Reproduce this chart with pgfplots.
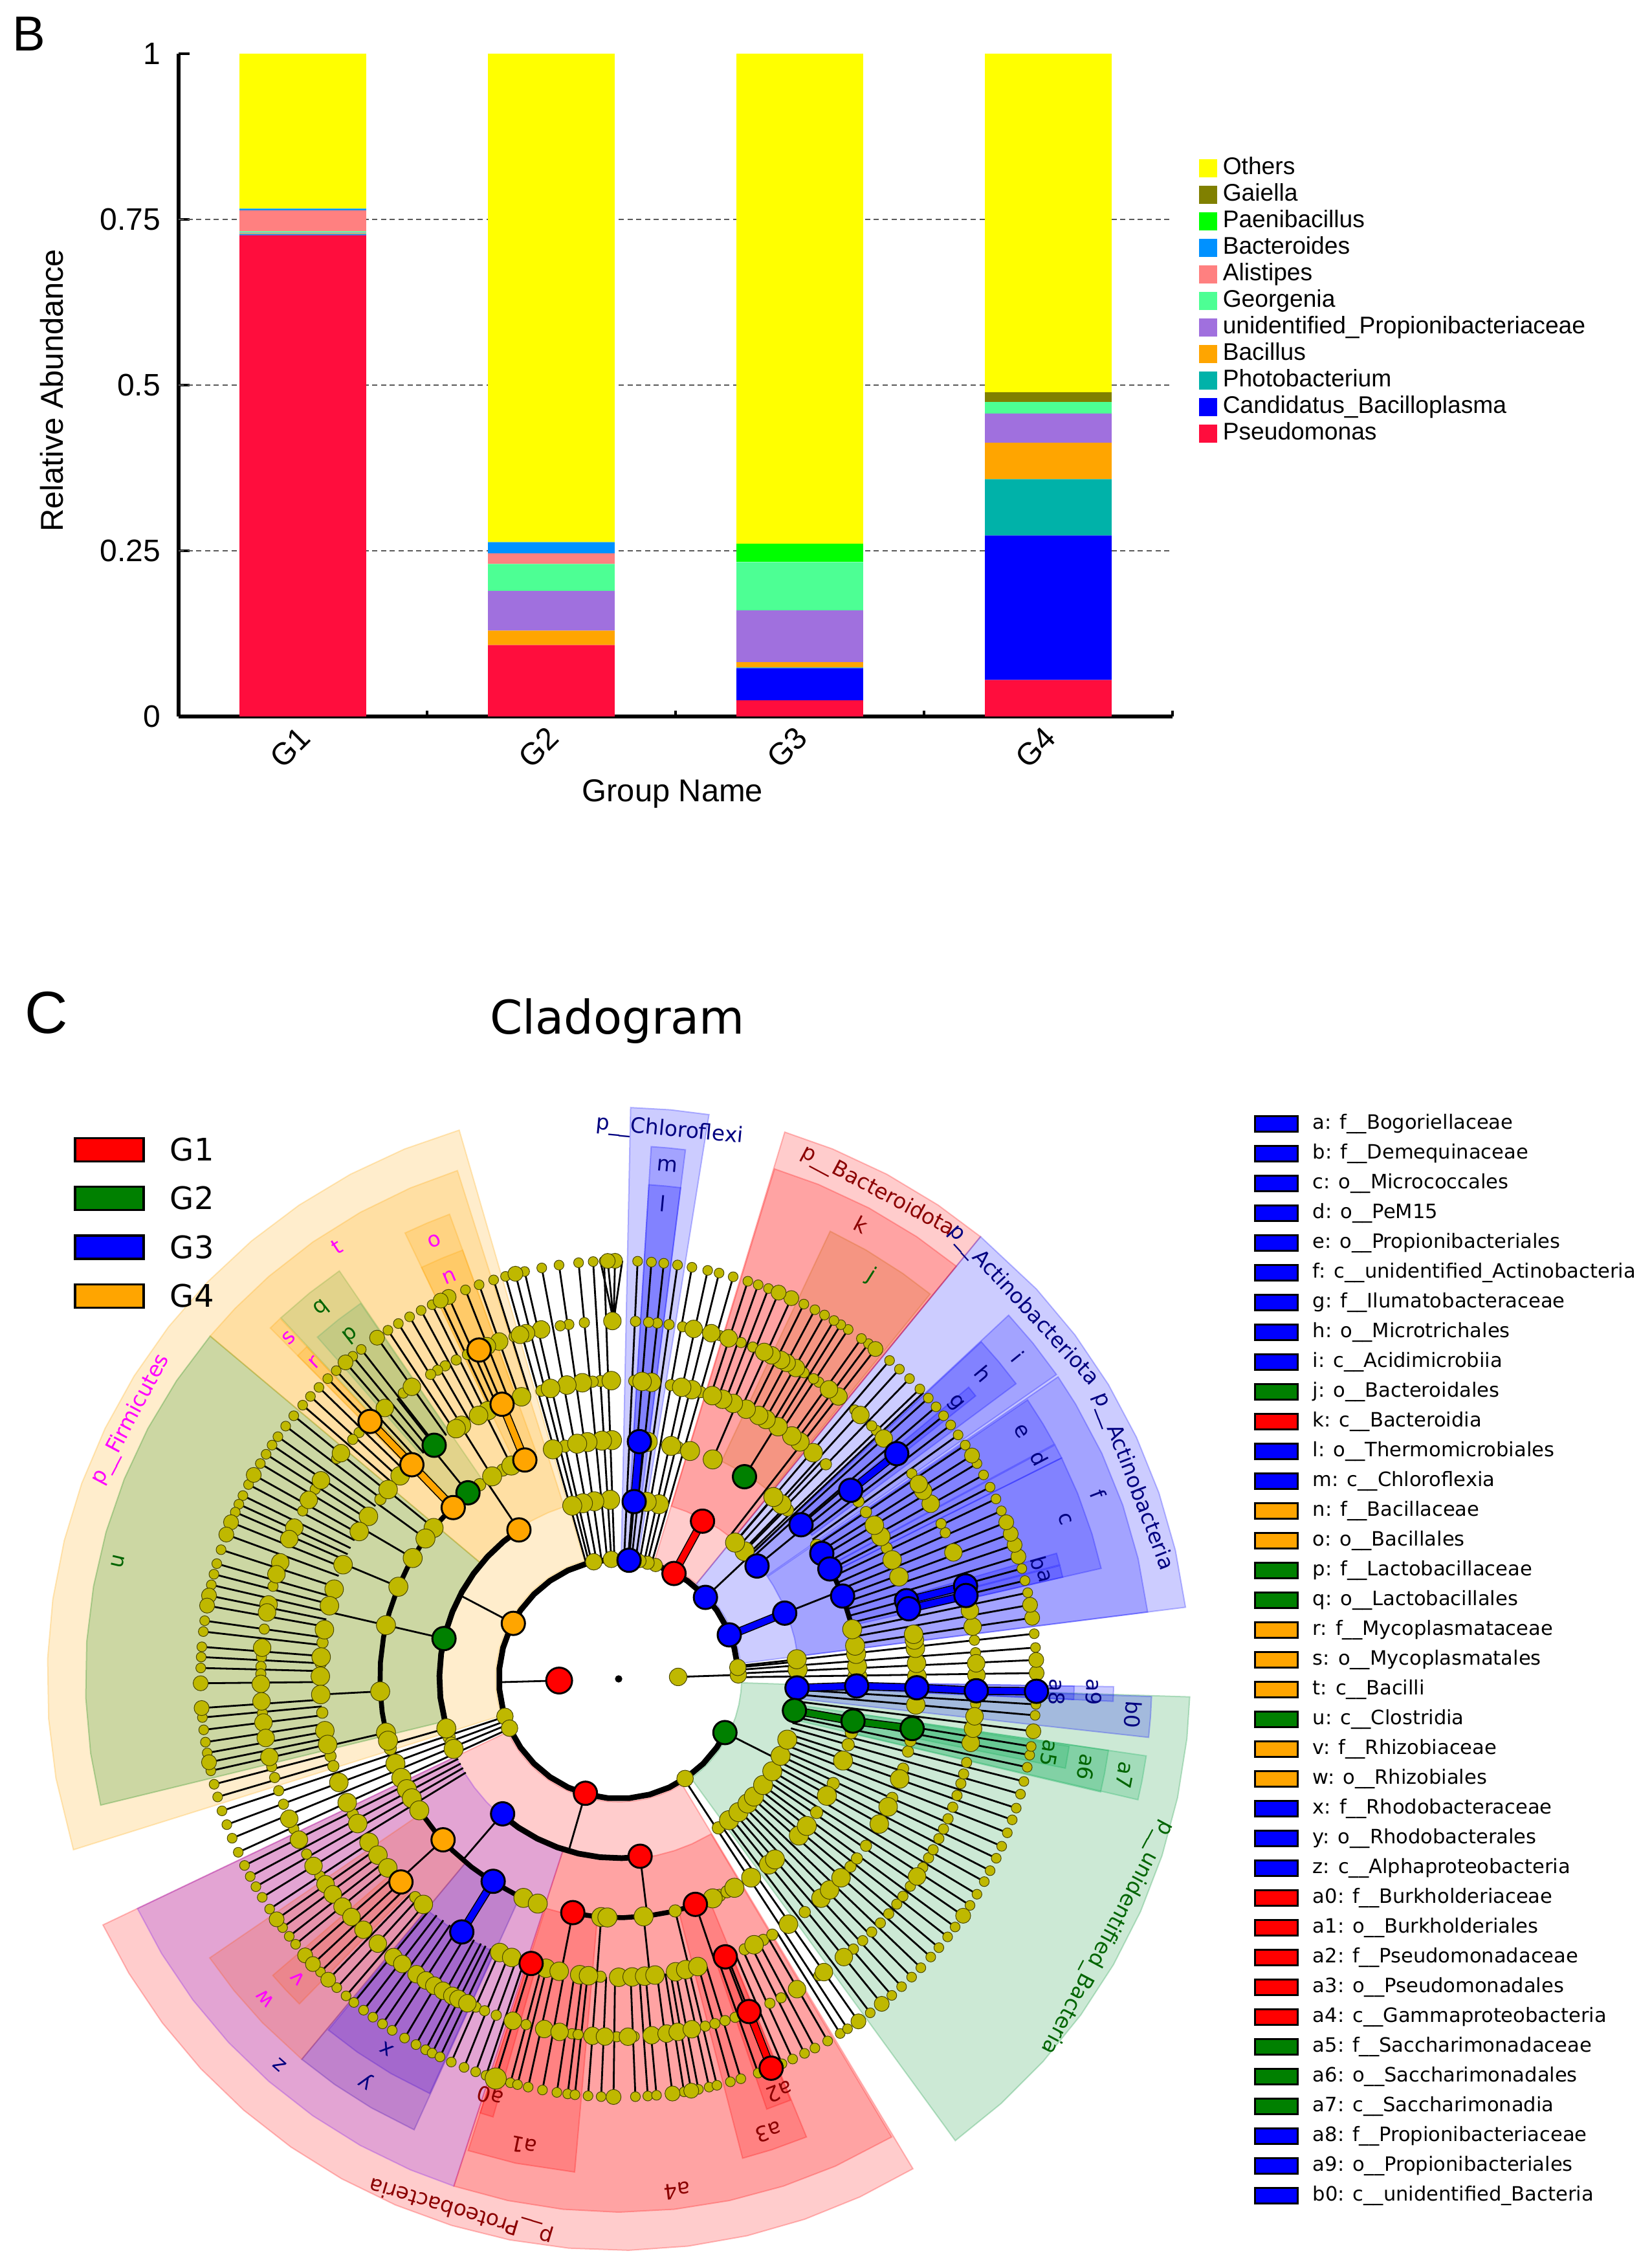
\documentclass[border=0pt]{standalone}
\usepackage{fontspec}
\setmainfont{Liberation Sans}
\newfontfamily\djv{DejaVu Sans}
\usepackage{pgfplots}
\usepackage{pgfplotstable}
\pgfplotsset{compat=1.18}
\usepgfplotslibrary{polar}

\definecolor{cOthers}{HTML}{FFFF00}
\definecolor{cGaiella}{HTML}{808000}
\definecolor{cPaeni}{HTML}{00FF00}
\definecolor{cBacteroides}{HTML}{0091FF}
\definecolor{cAlistipes}{HTML}{FF8080}
\definecolor{cGeorgenia}{HTML}{4DFF94}
\definecolor{cProp}{HTML}{A070DE}
\definecolor{cBacillus}{HTML}{FFA500}
\definecolor{cPhoto}{HTML}{00B2A9}
\definecolor{cCand}{HTML}{0000FF}
\definecolor{cPseudo}{HTML}{FF0D3D}
\definecolor{dotc}{HTML}{BFB800}
\definecolor{dotedge}{HTML}{4A4700}
\definecolor{gG}{HTML}{008000}
\definecolor{gO}{HTML}{FFA500}
\definecolor{gNavy}{HTML}{000080}
\definecolor{gDRed}{HTML}{8B0000}
\definecolor{gDGreen}{HTML}{006400}
\definecolor{gMag}{HTML}{FF00FF}
\definecolor{blue}{HTML}{0000FF}
\definecolor{red}{HTML}{FF0000}
% sector tints read off the overlaps in the reference
\definecolor{sJ}{RGB}{205,95,0}
\definecolor{sQ}{RGB}{108,168,48}
\definecolor{sP}{RGB}{84,167,100}
\definecolor{sZ}{RGB}{115,4,239}
\definecolor{sW}{RGB}{252,85,17}
\definecolor{sY}{RGB}{52,0,180}
\definecolor{sX}{RGB}{57,0,210}
\definecolor{sGr}{HTML}{00902F}
\definecolor{sSa}{HTML}{00AA50}

\pgfplotstableread{
x   Pseu   Cand   Phot  Baci   Prop  Geor   Alis   Bact   Paen   Gaie   Othe
0.5 0.726  0.001  0.001 0.001  0.001 0.002  0.0316 0.0025 0      0      0.2339
1.5 0.1077 0      0     0.0219 0.06  0.0405 0.016  0.017  0      0      0.737
2.5 0.0243 0.0486 0.001 0.008  0.078 0.073  0      0      0.0275 0      0.7396
3.5 0.055  0.218  0.085 0.055  0.044 0.0175 0      0      0      0.0145 0.511
}\bardata

% polar helpers, angle in degrees and radius in reference pixels
\newcommand\ringdots[3]{%
  \gdef\pts{}\pgfplotsforeachungrouped\ang in {#3}{\xdef\pts{\pts(\ang,#1) }}%
  \edef\doit{\noexpand\addplot[data cs=polar,only marks,mark=*,mark size=#2,
    mark options={fill=dotc,draw=dotedge,line width=.25pt}] coordinates {\pts};}\doit}
\newcommand\cnode[3]{%
  \addplot[data cs=polar,only marks,mark=*,mark size=#2,
    mark options={fill=#1,draw=black,line width=.75pt}] coordinates {#3};}
\newcommand\spokes[3]{%
  \pgfplotsforeachungrouped\ang in {#3}{%
    \edef\doit{\noexpand\addplot[data cs=polar,black,line width=.7pt]
      coordinates {(\ang,#1)(\ang,#2)};}\doit}}
\newcommand\arcline[3]{%
  \gdef\pts{}\pgfplotsforeachungrouped\ang in {#3}{\xdef\pts{\pts(\ang,#2) }}%
  \edef\doit{\noexpand\addplot[data cs=polar,black,line width=#1] coordinates {\pts};}\doit}
\newcommand\sector[4]{%
  \gdef\ptsout{}\gdef\ptsin{}%
  \pgfplotsforeachungrouped\ang in {#4}{%
    \xdef\ptsout{\ptsout(\ang,#3) }\xdef\ptsin{(\ang,#2) \ptsin}}%
  \edef\doit{\noexpand\addplot[data cs=polar,fill=#1,fill opacity=.2,draw=#1,
    draw opacity=.25,line width=.5pt] coordinates {\ptsout\ptsin} -- cycle;}\doit}
\newcommand\branch[2]{%
  \addplot[data cs=polar,black,line width=3.2pt] coordinates {#2};
  \addplot[data cs=polar,#1,line width=2.4pt] coordinates {#2};}
\newcommand\lab[4]{%
  \node[rotate=#2-90,text=#3,font=\fontsize{8.2}{10}\selectfont\djv]
    at (axis cs:{#1*cos(#2)},{#1*sin(#2)}) {#4};}
\newcommand\lrow[3]{%
  \draw[fill=#2,draw=black,line width=.8pt] (axis cs:983.5,{#1-14}) rectangle (axis cs:1049,{#1+10});
  \node[anchor=west,font=\fontsize{7.63}{9}\selectfont\djv,inner sep=0pt] at (axis cs:1072,{#1-2}) {#3};}
\newcommand\grow[3]{%
  \draw[fill=#2,draw=black,line width=.9pt] (axis cs:-840,{#1-18}) rectangle (axis cs:-734,{#1+18});
  \node[anchor=west,font=\fontsize{12}{14}\selectfont\djv,inner sep=0pt] at (axis cs:-694,#1) {#3};}

\begin{document}
\begin{tikzpicture}
\path[use as bounding box] (0,0) rectangle (638pt,874.5pt);

% panel C, one pixel of the reference is .25pt, origin at the tree's root
\begin{axis}[
  at={(0pt,0pt)},anchor=south west,scale only axis,width=638pt,height=874.5pt,
  xmin=-956,xmax=1596,ymin=-904,ymax=2594,hide axis,clip=false]

% phyla
\sector{gO}{190}{883}{106.2,112,118,124,130,136,142,148,154,160,166,172,178,184,190,197.4}
\sector{blue}{190}{883}{80.9,84.8,88.8}
\sector{red}{190}{883}{50.7,56,62,68,73.1}
\sector{blue}{190}{883}{7.2,13,19,25,31,37,43,50.7}
\sector{red}{190}{883}{205.5,211,217,223,229,235,241,247,253,259,265,271,277,283,289,295,301}
\sector{sGr}{190}{883}{306.1,312,318,324,330,336,342,348,354,358.2}
% classes
\sector{gG}{279}{824}{140,146,152,158,164,170,176,182,188,193.7}
\sector{gO}{279}{824}{107.6,113,119,125,131,136,140}
\sector{blue}{279}{824}{82.8,84.6,86.5}
\sector{red}{279}{824}{50.7,56,62,68,73}
\sector{blue}{279}{824}{7.2,13,19,25,31,34.5}
\sector{blue}{279}{824}{34.8,39,43}
\sector{sZ}{279}{824}{205.5,211,217,223,229,235,241,247,252}
\sector{red}{279}{824}{252,258,264,270,276,282,288,294,300.8}
\sector{blue}{279}{824}{353.7,356,358.1}
\sector{sSa}{279}{824}{346.9,349,351.7}
% orders
\sector{gO}{372}{764}{110,112.8,115.6}
\sector{sQ}{372}{764}{124.4,128.7,133.1}
\sector{gO}{372}{764}{133.2,134.8}
\sector{blue}{372}{765}{82.8,84.6,86.5}
\sector{sJ}{372}{765}{51,55,60,64.7}
\sector{blue}{372}{765}{36.6,39.8,42.9}
\sector{blue}{372}{765}{28.3,31,34.3}
\sector{blue}{372}{765}{26.5,28.2}
\sector{blue}{372}{765}{12.9,17,22,26.5}
\sector{sW}{372}{765}{214.3,219,224,230.2}
\sector{sY}{372}{765}{230.2,235,240,245.6}
\sector{red}{372}{765}{252.3,258,264.9}
\sector{red}{372}{765}{284.5,288,292.3}
\sector{sSa}{372}{765}{346.8,349,351.7}
\sector{blue}{372}{765}{357.4,359.1}
% families
\sector{gO}{464}{705}{110,112.8,115.6}
\sector{sP}{464}{704}{124.5,128,131.4}
\sector{gO}{464}{704}{133.2,134.8}
\sector{blue}{464}{704}{38.4,39.8}
\sector{blue}{464}{704}{14.5,16}
\sector{blue}{464}{704}{12.9,14.4}
\sector{sW}{464}{704}{220.6,223,225.5}
\sector{sX}{464}{704}{230.4,235,240,245.5}
\sector{red}{464}{704}{252.3,254}
\sector{red}{464}{703}{289,292.2}
\sector{sSa}{464}{704}{348.7,351.5}
\sector{blue}{464}{704}{357.4,359.1}

% branches that reach the outer ring
\spokes{185}{646}{0.8,2.6,4.3,6.2,74.1,76.1,77.7,79.9,81.9,83.8,85.5,87.4,92,93.5,95.5,98.2,100.6,103,104.3,105.7,198.4,200.4,202.4,204.5,303.2,43.2}
\spokes{277}{646}{42.2,43.9,45.9,47.8,49.6,52.1,206.5,208.2,209.8,211.5,305,307,309,310.8,312.6,314.5,316.3,318.3,320,321.9,323.6,325.5,327.2,329,331,332.7,334.6,336.4,338.4,340.3,342,344,345.8,347.8,349.5,350.7,352.8,355,356.5}
\spokes{369}{646}{8.4,10.2,11.9,13.6,15.3,17,18.7,20.3,22,23.7,25.5,27.3,29.2,31,32.3,34,35.7,37.4,39,40.6}
\spokes{461}{646}{53.3,54.5,56.7,57.9,59,60.5,62,63.7,65.6,67.5,69,70.5,72,107.4,109.5,111.5,114,115.2,116.5,118.2,120,121.8,123.5,125.3,128,129.5,130.8,132.5,134.1,135.8,137.5,139.1,141,142.8,144.6,146,147.5,149,150.8,152.3,154,155.3,156.5,158,159.8,162,164,165.5,167,168.5,169.9,172,173.5,175.6,177,178.5,180.6,184,185.3,187,188.7,190.2,191.5,192.7,194.6,196.4,213.4,215.1,216.5,218,219.4,221.4,223,224.5,226,227.6,229.3,230.7,232.4,234,235.6,237.2,239.2,241,242.5,243.5,244.7,246.4,248.3,250,251.5,252.9,255,256,257.5,259.5,261.5,263,264,265.8,267.6,269.3,272.3,274,275.2,277.4,279,280,281,282.5,283.6,285.5,287,289.5,291.4,293,294.6,296.4,298,300,302}
% short links between rings
\spokes{92}{185}{1.9,181.6}
\spokes{185}{277}{152.2,253.8,333.2,85,5.5}
\spokes{277}{369}{123.8,167,196,229.3,276.9,45.4,49.5,39.2,21.6}
\spokes{369}{461}{58.1,40.2,47,66.8,116.7,122,129,140.8,144,149.6,157.3,167,183,193,222.5,258.9,265.8,276,283.7,288.8}
\spokes{461}{552}{291,113,128.3}
\addplot[data cs=polar,black,line width=.7pt] coordinates {(90.5,646)(90.8,553)(91.5,646)(90.8,553)(92.5,646)(90.8,553)(89.5,646)};

% thick arcs
\arcline{2.2pt}{185}{5.5,15,25,35,45,55,65,75,85,95,105,115,125,135,145,155,165,175,185,195,205,215,225,235,245,255,265,275,285,295,305,315,325,333.2}
\arcline{2.2pt}{277}{123.8,130,137,144,151,158,165,172,179,186,196}
\arcline{2.2pt}{277}{229.3,236,243,250,257,264,271,276.9}
\arcline{1.9pt}{369}{129,134,140,146,152,158,164,170,176,182,188,193}
\arcline{1.9pt}{369}{213.4,220,226,232,238,244,250.2}
\arcline{1.9pt}{369}{258.9,265,271,277,283,288.8}
\arcline{1.9pt}{369}{8,14,20,26,31.7}

% coloured branches
\branch{blue}{(-2.9,276)(-1.7,368)(-1.7,461)(-1.9,553)(-1.7,646)}
\branch{gG}{(-10.2,276)(-10.2,368)(-9.6,460)}
\branch{blue}{(21.4,184)(21.6,276)}
\branch{blue}{(15.2,461)(15,555)}
\branch{blue}{(13.6,461)(13.5,552)}
\branch{blue}{(39.1,462)(39,553)}
\branch{blue}{(85,275)(85,368)}
\branch{red}{(62.3,184)(62,276)}
\branch{red}{(291.4,552)(291.4,646)}
\branch{gO}{(113.2,368)(113,461)}
\branch{gO}{(134,368)(134,460)(134,553)}
\branch{blue}{(238.2,368)(238.2,460)}

% dots, ring by ring
\ringdots{646}{1.9pt}{4.3,6.2,11.9,13.6,15.3,23.7,25.5,27.3,29.2,31,34,35.7,37.4,39,40.6,42.2,43.9,45.9,47.8,49.6,53.3,54.5,56.7,57.9,59,60.5,62,63.7,69,70.5,72,74.1,76.1,77.7,79.9,81.9,83.8,85.5,87.4,92,93.5,95.5,98.2,100.6,103,105.7,107.4,109.5,111.5,116.5,118.2,120,121.8,123.5,128,129.5,132.5,134.1,135.8,137.5,139.1,141,142.8,144.6,146,147.5,149,152.3,154,155.3,156.5,162,164,165.5,167,172,173.5,175.6,177,178.5,185.3,187,188.7,190.2,192.7,194.6,196.4,198.4,200.4,202.4,204.5,206.5,208.2,209.8,211.5,213.4,216.5,218,219.4,224.5,227.6,229.3,230.7,232.4,234,235.6,237.2,239.2,241,242.5,243.5,244.7,246.4,248.3,250,251.5,255,256,257.5,259.5,261.5,263,264,265.8,267.6,272.3,274,275.2,279,281,282.5,283.6,285.5,287,289.5,293,294.6,296.4,298,300,302,303.2,307,310.8,312.6,314.5,316.3,318.3,320,321.9,323.6,327.2,329,331,332.7,334.6,336.4,338.4,340.3,342,344,345.8,347.8,349.5,350.7,355,356.5}
\ringdots{646}{2.9pt}{0.8,2.6,8.4,10.2,17,18.7,20.3,22,32.3,52.1,65.6,67.5,90.5,91.5,104.3,114,115.2,125.3,130.8,150.8,158,159.8,168.5,169.9,180.6,184,191.5,215.1,221.4,223,226,269.3,277.4,280,305,309,325.5,352.8}
\ringdots{646}{4.1pt}{252.9}
\ringdots{553}{2pt}{4.2,6.2,12,24.1,25.7,35,44,45,48.7,56,57,58.8,68,70,73.6,79.7,81.9,83.8,85.2,87.3,95.5,98,99.4,107,115,117,119,120.4,121.7,127,136.5,138,142,148,152,165,172,176.5,178,179.2,185.5,194.2,196,198.2,200.5,204.8,209.3,213.4,246.5,248,250,255,262.5,263.5,269.7,272.5,284,285.6,287.3,289,295,297,304,311,313,315,317,319,321,322.6,324.6,328.2,330,331.5,333.5,335.2,337,339,341,343,344.6,346.5,356}
\ringdots{553}{3.4pt}{0.6,2.5,8.4,11,20.7,29.3,31.7,33,42.2,47.5,52.1,54,60.3,62,63,64.7,66,72.1,75,77.9,91,102.5,105,106,109.5,111.6,125.3,130.8,140.9,146.3,150,155,157,161,163,168,169.3,175,180.8,183.6,187,189.5,192.6,203,206.7,211.5,215,217,219.5,221.7,224.5,227.7,231,232.8,235.6,237.4,239,240.6,242.3,243.4,245,252.8,258,260.5,265.8,267.8,271.5,275.3,277.7,279.5,281.8,299.9,305,309,326.5,349.7,352,354}
\ringdots{461}{2.2pt}{26,34,36.5,46,74,79.9,87,93.5,95,105,143,173,177,186.5,195,197,207,227,266.5,295,299,301,308.6,321,323,326,336.5,342.5,345.9,348}
\ringdots{461}{3.6pt}{0.5,3,5.9,7.5,8.6,20,23.5,28.5,31,49.3,52.6,54.5,57.7,60.4,62,64.7,67.4,69.6,71.7,75.8,77.8,83.7,85.5,91.4,97,100,103.2,109,116,118,121.8,123,137.1,140.6,147,150.4,157.5,162.5,165.8,170.5,175.8,179.5,183,190,192.7,200.3,204.5,209,213.2,216.2,219.3,229.1,246.5,249,255.9,258.5,262.5,264.2,270,272.6,275,277,281,283,285.4,297,304.7,312.7,315,318.2,330.9,334.6,340.4,355}
\ringdots{369}{2.4pt}{34,45,75.7,119,125.6,103,197,268.2,283.7,295,297,326,334,344,347}
\ringdots{369}{3.7pt}{0.5,3,6,8,12,47,49.6,66.8,72.6,77.3,83,91.6,94,97.5,100,106,116.7,122,140.8,144,149.6,157.3,167,183,193,195,200.8,204.5,207.5,210,213.4,246.5,250.2,265.8,267.3,276,293.2,299,303.7,309,310.9,319,322,330.7,340}
\ringdots{277}{2.4pt}{0.6,79,199,201,339,303.8}
\ringdots{277}{3.7pt}{3,6.3,45.4,49.5,77,81,92.7,97.8,101.5,105,196,203,308,312,316,319,323.7,329,334.6,340.2}
\ringdots{185}{2.6pt}{72,76,80}
\ringdots{185}{3.2pt}{1.9,5.5,93.5,102,198.2,204.3,303.7}
\ringdots{92}{3.4pt}{1.9}
\addplot[only marks,mark=*,mark size=1.2pt,black] coordinates {(0,0)};

% significant clades
\cnode{red}{5pt}{(181.6,92)}
\cnode{blue}{4.5pt}{(-1.7,646)(-1.9,553)(-1.7,461)(-1.7,368)(-2.9,276)(21.7,184)(21.6,276)(43.2,184)(39.2,276)(40.2,369)(39.1,462)(39,553)(31.7,369)(27.5,368)(20.3,369)(15.2,461)(13.6,461)(15,555)(13.5,552)(85,184)(85,275)(85,368)(229.3,275)(238.2,368)(238.2,460)}
\cnode{gG}{4.5pt}{(-26.8,184)(-10.2,276)(-10.2,368)(-9.6,460)(58.1,368)(167,277)(129,370)(128.3,460)}
\cnode{red}{4.5pt}{(62.3,184)(62,276)(253.8,184)(258.9,368)(252.9,460)(276.9,276)(288.8,368)(291,460)(291.4,552)(291.4,646)}
\cnode{gO}{4.5pt}{(152.2,184)(123.8,277)(113.2,368)(113,461)(113,552)(134,368)(134,460)(134,553)(222.5,368)(223,460)}

% clade letters
\lab{854}{152}{gMag}{p\_\_Firmicutes}
\lab{795}{166.8}{gDGreen}{u}
\lab{797}{123.1}{gMag}{t}
\lab{734}{112.8}{gMag}{o}
\lab{674}{112.8}{gMag}{n}
\lab{734}{128.7}{gDGreen}{q}
\lab{673}{128}{gDGreen}{p}
\lab{733}{134}{gMag}{s}
\lab{678}{133.9}{gMag}{r}
\lab{851}{84.7}{gNavy}{p\_\_Chloroflexi}
\lab{797}{84.6}{gNavy}{m}
\lab{738}{84.7}{gNavy}{l}
\lab{853}{62}{gDRed}{p\_\_Bacteroidota}
\lab{796}{61.9}{gDRed}{k}
\lab{735}{57.9}{gDGreen}{j}
\lab{851}{42.7}{gNavy}{p\_\_Actinobacteriota}
\lab{851.5}{21}{gNavy}{p\_\_Actinobacteria}
\lab{793}{38.9}{gNavy}{i}
\lab{735}{39.9}{gNavy}{h}
\lab{673}{39.3}{gNavy}{g}
\lab{794}{21.1}{gNavy}{f}
\lab{731}{31.6}{gNavy}{e}
\lab{734.5}{27.7}{gNavy}{d}
\lab{733}{19.7}{gNavy}{c}
\lab{674}{15.4}{gNavy}{b}
\lab{676}{13.6}{gNavy}{a}
\lab{856}{253.5}{gDRed}{p\_\_Proteobacteria}
\lab{794}{228.7}{gNavy}{z}
\lab{733}{237.9}{gNavy}{y}
\lab{675}{237.9}{gNavy}{x}
\lab{736}{222.1}{gMag}{w}
\lab{678}{223}{gMag}{v}
\lab{796}{276.5}{gDRed}{a4}
\lab{735.5}{258.5}{gDRed}{a1}
\lab{675}{252.9}{gDRed}{a0}
\lab{737.6}{288.3}{gDRed}{a3}
\lab{685}{291.3}{gDRed}{a2}
\lab{854}{-27.9}{gDGreen}{p\_\_unidentified\_Bacteria}
\lab{797}{-4}{gNavy}{b0}
\lab{735}{-1.6}{gNavy}{a9}
\lab{677.7}{-1.7}{gNavy}{a8}
\lab{796.7}{-10.8}{gDGreen}{a7}
\lab{735.6}{-10.7}{gDGreen}{a6}
\lab{675.8}{-9.8}{gDGreen}{a5}

% titles
\node[font=\fontsize{19}{22}\selectfont] at (axis cs:-911,2542) {B};
\node[font=\fontsize{23}{26}\selectfont] at (axis cs:-884,1029) {C};
\node[font=\fontsize{18}{20}\selectfont\djv] at (axis cs:-2,1016) {Cladogram};

% group legend
\grow{817.5}{red}{G1}
\grow{742.5}{gG}{G2}
\grow{667}{blue}{G3}
\grow{591.5}{gO}{G4}

% clade legend
\lrow{859.5}{blue}{a: f\_\_Bogoriellaceae}
\lrow{813.5}{blue}{b: f\_\_Demequinaceae}
\lrow{767.5}{blue}{c: o\_\_Micrococcales}
\lrow{721.5}{blue}{d: o\_\_PeM15}
\lrow{675.5}{blue}{e: o\_\_Propionibacteriales}
\lrow{629.5}{blue}{f: c\_\_unidentified\_Actinobacteria}
\lrow{583.5}{blue}{g: f\_\_Ilumatobacteraceae}
\lrow{537.5}{blue}{h: o\_\_Microtrichales}
\lrow{491.5}{blue}{i: c\_\_Acidimicrobiia}
\lrow{445.5}{gG}{j: o\_\_Bacteroidales}
\lrow{399.5}{red}{k: c\_\_Bacteroidia}
\lrow{353.5}{blue}{l: o\_\_Thermomicrobiales}
\lrow{307.5}{blue}{m: c\_\_Chloroflexia}
\lrow{261.5}{gO}{n: f\_\_Bacillaceae}
\lrow{215.5}{gO}{o: o\_\_Bacillales}
\lrow{169.5}{gG}{p: f\_\_Lactobacillaceae}
\lrow{123.5}{gG}{q: o\_\_Lactobacillales}
\lrow{77.5}{gO}{r: f\_\_Mycoplasmataceae}
\lrow{31.5}{gO}{s: o\_\_Mycoplasmatales}
\lrow{-14.5}{gO}{t: c\_\_Bacilli}
\lrow{-60.5}{gG}{u: c\_\_Clostridia}
\lrow{-106.5}{gO}{v: f\_\_Rhizobiaceae}
\lrow{-152.5}{gO}{w: o\_\_Rhizobiales}
\lrow{-198.5}{blue}{x: f\_\_Rhodobacteraceae}
\lrow{-244.5}{blue}{y: o\_\_Rhodobacterales}
\lrow{-290.5}{blue}{z: c\_\_Alphaproteobacteria}
\lrow{-336.5}{red}{a0: f\_\_Burkholderiaceae}
\lrow{-382.5}{red}{a1: o\_\_Burkholderiales}
\lrow{-428.5}{red}{a2: f\_\_Pseudomonadaceae}
\lrow{-474.5}{red}{a3: o\_\_Pseudomonadales}
\lrow{-520.5}{red}{a4: c\_\_Gammaproteobacteria}
\lrow{-566.5}{gG}{a5: f\_\_Saccharimonadaceae}
\lrow{-612.5}{gG}{a6: o\_\_Saccharimonadales}
\lrow{-658.5}{gG}{a7: c\_\_Saccharimonadia}
\lrow{-704.5}{blue}{a8: f\_\_Propionibacteriaceae}
\lrow{-750.5}{blue}{a9: o\_\_Propionibacteriales}
\lrow{-796.5}{blue}{b0: c\_\_unidentified\_Bacteria}
\end{axis}

% panel B
\begin{axis}[
  at={(69pt,597.75pt)},anchor=south west,scale only axis,width=384pt,height=256pt,
  ybar stacked,bar width=48.9pt,
  xmin=0,xmax=4,ymin=0,ymax=1,
  axis x line*=bottom,axis y line*=left,
  axis line style={line width=1.3pt,-},
  xtick={0.5,1.5,2.5,3.5},xticklabels={G1,G2,G3,G4},
  minor xtick={0,1,2,3,4},
  major x tick style={draw=none},
  minor x tick style={black,line width=1pt},
  minor tick length=2.2pt,
  ytick={0,0.25,0.5,0.75,1},yticklabels={0,0.25,0.5,0.75,1},
  y tick style={black,line width=1pt},
  major tick length=4.3pt,
  extra y ticks={0.25,0.5,0.75},extra y tick labels={},
  extra y tick style={grid=major,major tick length=0pt},
  major grid style={black!65,line width=.5pt,dash pattern=on 2pt off 1.4pt},
  tick label style={font=\fontsize{12}{14}\selectfont},
  x tick label style={rotate=45,anchor=center,xshift=-12pt,yshift=-5pt},
  y tick label style={xshift=-3.5pt},
  xlabel={Group Name},ylabel={Relative Abundance},
  label style={font=\fontsize{12.2}{14}\selectfont},
  xlabel style={at={(axis description cs:0.497,0)},anchor=center,yshift=-30pt},
  ylabel style={at={(axis description cs:0,0.492)},anchor=center,yshift=49pt},
  reverse legend,
  legend style={at={(1.026,0.8457)},anchor=north west,draw=none,fill=none,inner sep=0pt,
    font=\fontsize{9.3}{10}\selectfont,
    nodes={inner ysep=0pt,inner xsep=0pt,text height=7pt,text depth=2pt,anchor=west},
    /tikz/row sep=1.25pt,/tikz/column sep=2.25pt},
  legend cell align=left,
  legend image code/.code={\fill[#1] (0pt,-3.5pt) rectangle (7pt,3.5pt);},
]
\addplot[draw=none,fill=cPseudo] table[x=x,y=Pseu] {\bardata};
\addplot[draw=none,fill=cCand] table[x=x,y=Cand] {\bardata};
\addplot[draw=none,fill=cPhoto] table[x=x,y=Phot] {\bardata};
\addplot[draw=none,fill=cBacillus] table[x=x,y=Baci] {\bardata};
\addplot[draw=none,fill=cProp] table[x=x,y=Prop] {\bardata};
\addplot[draw=none,fill=cGeorgenia] table[x=x,y=Geor] {\bardata};
\addplot[draw=none,fill=cAlistipes] table[x=x,y=Alis] {\bardata};
\addplot[draw=none,fill=cBacteroides] table[x=x,y=Bact] {\bardata};
\addplot[draw=none,fill=cPaeni] table[x=x,y=Paen] {\bardata};
\addplot[draw=none,fill=cGaiella] table[x=x,y=Gaie] {\bardata};
\addplot[draw=none,fill=cOthers] table[x=x,y=Othe] {\bardata};
\legend{Pseudomonas,Candidatus\_Bacilloplasma,Photobacterium,Bacillus,unidentified\_Propionibacteriaceae,Georgenia,Alistipes,Bacteroides,Paenibacillus,Gaiella,Others}
\end{axis}
\end{tikzpicture}
\end{document}
